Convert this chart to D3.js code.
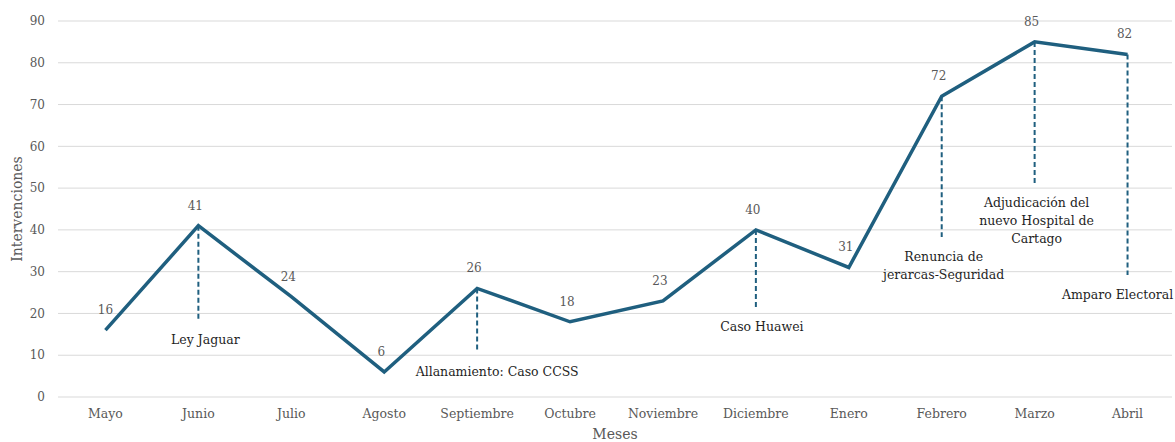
<!DOCTYPE html>
<html><head><meta charset="utf-8">
<script src="https://cdn.jsdelivr.net/npm/d3@7"></script>
<style>
body{margin:0;background:#fff;}
text{font-family:"DejaVu Serif",serif;}
</style></head>
<body><svg id="c" width="1175" height="442"></svg>
<script>
const months = ["Mayo","Junio","Julio","Agosto","Septiembre","Octubre","Noviembre","Diciembre","Enero","Febrero","Marzo","Abril"];
const values = [16,41,24,6,26,18,23,40,31,72,85,82];
const yTicks = [0,10,20,30,40,50,60,70,80,90];
const annMonths = ["Junio","Septiembre","Diciembre","Febrero","Marzo","Abril"];
const annText = [["Ley Jaguar"],["Allanamiento: Caso CCSS"],["Caso Huawei"],["Renuncia de","jerarcas-Seguridad"],["Adjudicación del","nuevo Hospital de","Cartago"],["Amparo Electoral"]];
const annEnd = [18.4,10.8,21.5,38.3,51.2,29.2];

// layout
const L = 59, R = 1174, T = 21, B = 397;
const annDx = [7,20,6,2,2,-10];
const color = "#1f5f7f";
const svg = d3.select("#c");
const x = d3.scaleBand().domain(months).range([L,R]);
const y = d3.scaleLinear().domain([0,90]).range([B,T]);
const cx = m => x(m)+x.bandwidth()/2;

// gridlines
svg.append("g").selectAll("line").data(yTicks).join("line")
  .attr("x1",58).attr("x2",1172).attr("y1",d=>y(d)).attr("y2",d=>y(d))
  .attr("stroke","#d9d9d9").attr("stroke-width",1);
// y tick labels
svg.append("g").selectAll("text").data(yTicks).join("text")
  .attr("x",45).attr("y",d=>y(d)).attr("dy","0.35em").attr("text-anchor","end")
  .attr("font-size",12).attr("fill","#595959").text(d=>d);
// x tick labels
svg.append("g").selectAll("text").data(months).join("text")
  .attr("x",d=>cx(d)).attr("y",418).attr("text-anchor","middle")
  .attr("font-size",12.5).attr("fill","#595959").text(d=>d);
// axis titles
svg.append("text").attr("transform",`translate(22,${(T+B)/2}) rotate(-90)`)
  .attr("text-anchor","middle").attr("font-size",14).attr("fill","#595959").text("Intervenciones");
svg.append("text").attr("x",(58+1172)/2).attr("y",439).attr("text-anchor","middle")
  .attr("font-size",14).attr("fill","#595959").text("Meses");

// annotation dashed lines
const ann = annMonths.map((m,i)=>({m,t:annText[i],e:annEnd[i],v:values[months.indexOf(m)],dx:annDx[i]}));
svg.append("g").selectAll("line").data(ann).join("line")
  .attr("x1",d=>cx(d.m)).attr("x2",d=>cx(d.m)).attr("y1",d=>y(d.v)).attr("y2",d=>y(d.e))
  .attr("stroke",color).attr("stroke-width",2).attr("stroke-dasharray","5,3");

// line
svg.append("path").datum(values)
  .attr("d",d3.line().x((d,i)=>cx(months[i])).y(d=>y(d)))
  .attr("fill","none").attr("stroke",color).attr("stroke-width",3.5).attr("stroke-linejoin","miter");

// data labels
svg.append("g").selectAll("text").data(values).join("text")
  .attr("x",(d,i)=>cx(months[i])-(i===0?0:3)).attr("y",(d)=>y(d)-16)
  .attr("text-anchor","middle").attr("font-size",12).attr("fill","#595959").text(d=>d);

// annotation labels
ann.forEach(a=>{
  const g = svg.append("text").attr("text-anchor","middle").attr("font-size",12.5).attr("fill","#1f1f1f");
  a.t.forEach((s,j)=>{
    g.append("tspan").attr("x",cx(a.m)+a.dx).attr("y",y(a.e)+24+j*18).text(s);
  });
});
</script></body></html>
